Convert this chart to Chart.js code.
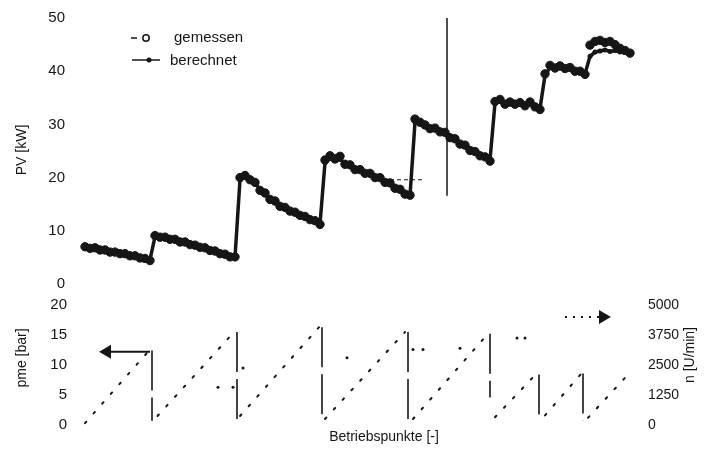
<!DOCTYPE html>
<html>
<head>
<meta charset="utf-8">
<script src="https://cdn.jsdelivr.net/npm/chart.js@4.4.0/dist/chart.umd.min.js"></script>
<style>
  body { margin: 0; background: #fff; }
  #wrap { position: relative; width: 710px; height: 464px; }
  #oben { position: absolute; left: 0; top: 0; }
  #unten { position: absolute; left: 0; top: 290px; }
</style>
</head>
<body>
<div id="wrap">
  <canvas id="oben" width="710" height="300"></canvas>
  <canvas id="unten" width="710" height="174"></canvas>
</div>
<script>
// Betriebspunkte 1..110
const punkte = Array.from({ length: 110 }, (_, i) => i + 1);

// PV [kW], berechnet
const pvBerechnet = [
  6.9, 6.8, 6.7, 6.5, 6.3, 6.1, 5.9, 5.8, 5.6, 5.4, 5.2, 5.0, 4.7, 4.6,
  8.9, 8.9, 8.7, 8.5, 8.3, 8.0, 7.8, 7.5, 7.2, 7.0, 6.7, 6.4, 6.1, 5.8, 5.5, 5.2, 5.0,
  19.6, 20.2, 19.8, 18.9, 17.8, 16.9, 16.1, 15.4, 14.8, 14.3, 13.8, 13.4, 13.0, 12.6, 12.2, 11.8, 11.3,
  22.8, 23.6, 23.9, 23.4, 22.8, 22.2, 21.7, 21.3, 21.0, 20.6, 20.2, 19.8, 19.3, 18.8, 18.2, 17.6, 17.1, 16.6,
  30.4, 30.6, 29.7, 29.4, 29.1, 28.8, 28.3, 27.7, 27.1, 26.5, 25.9, 25.3, 24.8, 24.3, 23.8, 23.3,
  34.0, 34.4, 34.1, 33.9, 34.1, 33.8, 33.7, 33.9, 33.5, 33.0,
  39.2, 40.7, 40.9, 40.6, 40.8, 40.4, 40.2, 39.8, 39.5,
  42.8, 43.6, 43.8, 44.0, 43.7, 43.9, 43.6, 43.5, 43.3
];

// PV [kW], gemessen
const pvGemessen = [
  7.0, 6.7, 6.8, 6.4, 6.4, 6.0, 6.0, 5.7, 5.7, 5.3, 5.3, 4.9, 4.8, 4.4,
  9.1, 8.8, 8.8, 8.4, 8.4, 7.9, 7.9, 7.4, 7.3, 6.9, 6.8, 6.3, 6.2, 5.7, 5.6, 5.1, 5.1,
  20.0, 20.4, 19.6, 19.1, 17.6, 17.1, 15.9, 15.6, 14.6, 14.4, 13.7, 13.5, 12.9, 12.7, 12.1, 11.9, 11.2,
  23.3, 24.1, 23.5, 24.0, 22.5, 22.4, 21.5, 21.5, 20.8, 20.8, 20.0, 20.0, 19.1, 19.0, 18.0, 17.8, 16.9, 16.7,
  31.0, 30.4, 29.9, 29.2, 29.3, 28.6, 28.5, 27.5, 27.3, 26.3, 26.1, 25.1, 24.9, 24.1, 23.9, 23.1,
  34.3, 34.7, 33.8, 34.2, 33.8, 34.1, 33.5, 34.2, 33.3, 32.8,
  39.5, 41.1, 40.6, 41.0, 40.5, 40.7, 40.0, 40.0, 39.4,
  44.9, 45.6, 45.8, 45.4, 45.6, 45.0, 44.3, 43.9, 43.4
];

// Hilfslinien im oberen Diagramm
const linieX = [73.4, 73.4];
const linieY = [50, 16.6];
const strichX = [62, 68.4];
const strichY = [19.6, 19.6];

// Drehzahl n [U/min], je Messreihe Anfang und Ende
const nAnfangX = [1, 15.5, 32, 49, 66.6, 83, 93, 101.6];
const nAnfang = [75, 375, 375, 250, 250, 325, 400, 300];
const nEndeX = [13.6, 30.6, 47.8, 65, 81.6, 91, 100.2, 109.6];
const nEnde = [3050, 3825, 4075, 3875, 3800, 2075, 2125, 2100];

// Spruenge zwischen den Messreihen
const sprungX = [14.4, 31.4, 48.4, 65.6, 82, 91.8, 100.6];
const sprungOben = [3100, 3875, 4075, 3875, 3800, 2100, 2150];
const sprungUnten = [175, 175, 175, 175, 1150, 175, 175];

// pme [bar]
const pmeX = [27.6, 30.6, 32.6, 53.4, 66.6, 68.6, 76, 87.4, 89];
const pmeWerte = [6.3, 6.3, 9.5, 11.2, 12.6, 12.6, 12.8, 14.5, 14.5];

// Achsenpfeile
const pfeilPmeX = [5.4, 14];
const pfeilPme = [12.2, 12.2];
const pfeilNX = [97, 104.6];
const pfeilN = [4500, 4500];

const schwarz = "#161616";
const schrift = "'Liberation Sans', Arial, sans-serif";

function paare(xs, ys) {
  return xs.map((x, i) => ({ x: x, y: ys[i] }));
}

function texte(liste) {
  return {
    id: "texte",
    afterDraw(chart) {
      const ctx = chart.ctx;
      ctx.save();
      ctx.fillStyle = schwarz;
      ctx.textBaseline = "middle";
      liste.forEach(t => {
        ctx.save();
        ctx.font = (t.size || 14) + "px " + schrift;
        ctx.translate(t.x, t.y);
        ctx.rotate(t.rot || 0);
        ctx.textAlign = t.align || "center";
        ctx.fillText(t.text, 0, 0);
        ctx.restore();
      });
      ctx.restore();
    }
  };
}

const legende = {
  id: "legende",
  afterDraw(chart) {
    const ctx = chart.ctx;
    ctx.save();
    ctx.strokeStyle = schwarz;
    ctx.fillStyle = schwarz;
    ctx.lineWidth = 1.5;
    ctx.beginPath();
    ctx.moveTo(131, 38); ctx.lineTo(137, 38);
    ctx.stroke();
    ctx.beginPath();
    ctx.arc(146, 38, 3.2, 0, Math.PI * 2);
    ctx.stroke();
    ctx.beginPath();
    ctx.moveTo(132, 60); ctx.lineTo(160, 60);
    ctx.stroke();
    ctx.beginPath();
    ctx.arc(149, 60, 2.5, 0, Math.PI * 2);
    ctx.fill();
    ctx.font = "15px " + schrift;
    ctx.textBaseline = "middle";
    ctx.fillText("gemessen", 174, 38);
    ctx.fillText("berechnet", 170, 61);
    ctx.restore();
  }
};

const tickFont = { family: schrift, size: 15 };

new Chart(document.getElementById("oben"), {
  type: "line",
  data: {
    datasets: [
      {
        label: "berechnet",
        data: paare(punkte, pvBerechnet),
        borderColor: schwarz,
        borderWidth: 3.5,
        pointRadius: 2.5,
        pointBackgroundColor: schwarz,
        pointBorderWidth: 0
      },
      {
        label: "gemessen",
        data: paare(punkte, pvGemessen),
        showLine: false,
        pointRadius: 4.2,
        pointBackgroundColor: schwarz,
        pointBorderColor: schwarz,
        pointBorderWidth: 1
      },
      {
        label: "Linie",
        data: paare(linieX, linieY),
        borderColor: schwarz,
        borderWidth: 1.5,
        pointRadius: 0
      },
      {
        label: "Strich",
        data: paare(strichX, strichY),
        borderColor: schwarz,
        borderWidth: 1.2,
        borderDash: [4, 3],
        pointRadius: 0
      }
    ]
  },
  options: {
    responsive: false,
    animation: false,
    layout: { padding: { left: 0, right: 75, top: 18, bottom: 7 } },
    plugins: { legend: { display: false }, tooltip: { enabled: false } },
    scales: {
      x: { type: "linear", min: 0, max: 111, display: false },
      y: {
        min: 0, max: 50,
        ticks: { stepSize: 10, font: tickFont, color: schwarz, padding: 7 },
        grid: { display: false },
        border: { display: false },
        afterFit(s) { s.width = 80; }
      }
    }
  },
  plugins: [legende, texte([
    { text: "PV [kW]", x: 22, y: 150, rot: -Math.PI / 2 }
  ])]
});

const nDaten = [];
nAnfangX.forEach((x, i) => {
  nDaten.push({ x: x, y: nAnfang[i] });
  nDaten.push({ x: nEndeX[i], y: nEnde[i] });
  nDaten.push({ x: nEndeX[i] + 0.1, y: null });
});

const sprungDaten = [];
sprungX.forEach((x, i) => {
  sprungDaten.push({ x: x, y: sprungOben[i] });
  sprungDaten.push({ x: x, y: sprungUnten[i] });
  sprungDaten.push({ x: x + 0.1, y: null });
});

new Chart(document.getElementById("unten"), {
  type: "line",
  data: {
    datasets: [
      {
        label: "n",
        data: nDaten,
        yAxisID: "n",
        borderColor: schwarz,
        borderWidth: 2,
        borderDash: [2, 11],
        borderCapStyle: "round",
        pointRadius: 0,
        spanGaps: false
      },
      {
        label: "Sprung",
        data: sprungDaten,
        yAxisID: "n",
        borderColor: schwarz,
        borderWidth: 1.6,
        borderDash: [40, 7],
        pointRadius: 0,
        spanGaps: false
      },
      {
        label: "pme",
        data: paare(pmeX, pmeWerte),
        yAxisID: "pme",
        showLine: false,
        pointRadius: 1.5,
        pointBackgroundColor: schwarz,
        pointBorderWidth: 0
      },
      {
        label: "Pfeil pme",
        data: paare(pfeilPmeX, pfeilPme),
        yAxisID: "pme",
        borderColor: schwarz,
        borderWidth: 2,
        pointStyle: "triangle",
        pointRadius: [6, 0],
        pointRotation: -90,
        pointBackgroundColor: schwarz,
        pointBorderColor: schwarz
      },
      {
        label: "Pfeil n",
        data: paare(pfeilNX, pfeilN),
        yAxisID: "n",
        borderColor: schwarz,
        borderWidth: 2,
        borderDash: [2, 6],
        pointStyle: "triangle",
        pointRadius: [0, 6],
        pointRotation: 90,
        pointBackgroundColor: schwarz,
        pointBorderColor: schwarz
      }
    ]
  },
  options: {
    responsive: false,
    animation: false,
    layout: { padding: { left: 0, right: 0, top: 15, bottom: 39 } },
    plugins: { legend: { display: false }, tooltip: { enabled: false } },
    scales: {
      x: { type: "linear", min: 0, max: 111, display: false },
      pme: {
        position: "left",
        min: 0, max: 20,
        ticks: { stepSize: 5, font: tickFont, color: schwarz, padding: 5 },
        grid: { display: false },
        border: { display: false },
        afterFit(s) { s.width = 80; }
      },
      n: {
        position: "right",
        min: 0, max: 5000,
        ticks: {
          stepSize: 1250, font: { family: schrift, size: 14 }, color: schwarz, padding: 5,
          callback: v => String(v)
        },
        grid: { display: false },
        border: { display: false },
        afterFit(s) { s.width = 75; }
      }
    }
  },
  plugins: [texte([
    { text: "pme [bar]", x: 22, y: 68, rot: -Math.PI / 2 },
    { text: "n [U/min]", x: 690, y: 65, rot: -Math.PI / 2 },
    { text: "Betriebspunkte [-]", x: 384, y: 147 }
  ])]
});
</script>
</body>
</html>
